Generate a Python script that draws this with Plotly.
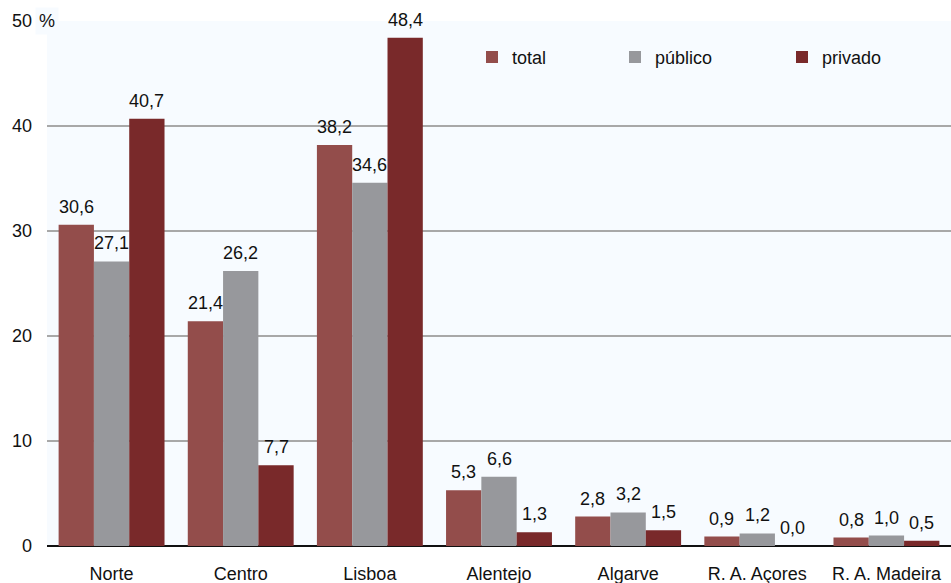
import plotly.graph_objects as go

categories = ["Norte", "Centro", "Lisboa", "Alentejo", "Algarve", "R. A. Açores", "R. A. Madeira"]
total = [30.6, 21.4, 38.2, 5.3, 2.8, 0.9, 0.8]
publico = [27.1, 26.2, 34.6, 6.6, 3.2, 1.2, 1.0]
privado = [40.7, 7.7, 48.4, 1.3, 1.5, 0.0, 0.5]
series_names = ["total", "público", "privado"]
colors = ["#934d4b", "#97989c", "#79292a"]
y_tickvals = [0, 10, 20, 30, 40, 50]
y_ticktext = ["0", "10", "20", "30", "40", "50"]

FONT = "Liberation Sans, Arial, sans-serif"
BG = "#f7fbff"
L, PW = 47, 904
BARGAP = 0.18


def fmt(v):
    return f"{v:.1f}".replace(".", ",")


fig = go.Figure()
legends = ["legend", "legend2", "legend3"]
all_series = [total, publico, privado]
for name, vals, col, lg in zip(series_names, all_series, colors, legends):
    fig.add_trace(go.Bar(
        x=categories, y=vals, name=name, marker_color=col, marker_line_width=0,
        legend=lg, showlegend=True, hoverinfo="x+y+name",
    ))

# value labels above bars (offset to each bar within its group)
slot = PW / len(categories)
bar_w = slot * (1 - BARGAP) / len(all_series)
annotations = []
for i, vals in enumerate(all_series):
    for c, v in zip(categories, vals):
        annotations.append(dict(
            text=fmt(v), x=c, y=v, xref="x", yref="y",
            xshift=(i - 1) * bar_w, yshift=6,
            xanchor="center", yanchor="bottom", showarrow=False,
            font=dict(size=18, color="#111111", family=FONT)))

annotations.append(dict(text="%", xref="paper", yref="y", x=0, y=50,
                        xanchor="center", yanchor="middle", showarrow=False,
                        font=dict(size=18, color="#111111", family=FONT),
                        bgcolor=BG, borderpad=3))

leg_common = dict(orientation="h", yanchor="middle", y=0.931, xanchor="left",
                  font=dict(size=18, color="#111111", family=FONT),
                  bgcolor="rgba(0,0,0,0)", itemwidth=30)

fig.update_layout(
    width=951, height=583,
    margin=dict(l=L, r=0, t=21, b=37),
    paper_bgcolor="white",
    plot_bgcolor=BG,
    barmode="group",
    bargap=BARGAP,
    bargroupgap=0,
    showlegend=True,
    font=dict(family=FONT, size=18, color="#111111"),
    legend=dict(x=(472 - L) / PW, **leg_common),
    legend2=dict(x=(615 - L) / PW, **leg_common),
    legend3=dict(x=(782 - L) / PW, **leg_common),
    xaxis=dict(showgrid=False, ticks="", ticklabelstandoff=15,
               tickfont=dict(size=18), showline=False),
    yaxis=dict(range=[0, 50], tickvals=y_tickvals, ticktext=y_ticktext,
               showgrid=True, gridcolor="#a8a8a8", gridwidth=1.5,
               zeroline=True, zerolinecolor="#111111", zerolinewidth=1.5,
               ticks="", ticklabelstandoff=14, tickfont=dict(size=18)),
    annotations=annotations,
)

fig.write_html("out.html", config={"displayModeBar": False},
               post_script="document.body.style.margin='0';document.body.style.overflow='hidden';")
